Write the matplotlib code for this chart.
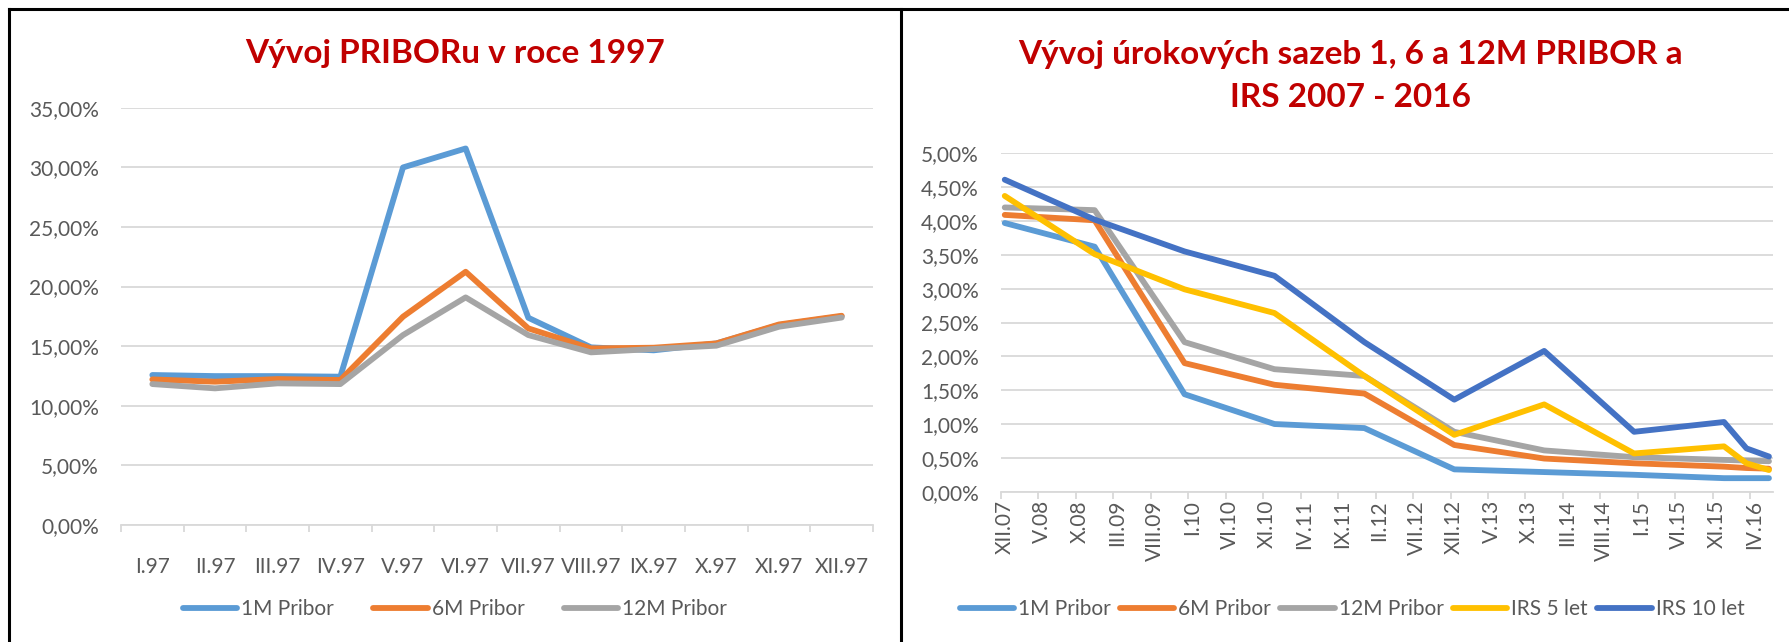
import matplotlib
matplotlib.use('Agg')
import matplotlib.pyplot as plt
from matplotlib.lines import Line2D
from matplotlib.ticker import FixedLocator, FuncFormatter

plt.rcParams['font.family'] = ['Lato', 'DejaVu Sans']

# left chart: PRIBOR 1997 (in %)
months_97 = ['I.97', 'II.97', 'III.97', 'IV.97', 'V.97', 'VI.97',
             'VII.97', 'VIII.97', 'IX.97', 'X.97', 'XI.97', 'XII.97']
pribor_1m_97 = [12.58, 12.49, 12.49, 12.44, 29.99, 31.58, 17.38, 14.90, 14.65, 15.23, 16.77, 17.50]
pribor_6m_97 = [12.21, 12.02, 12.24, 12.16, 17.47, 21.24, 16.49, 14.81, 14.87, 15.23, 16.82, 17.55]
pribor_12m_97 = [11.82, 11.46, 11.88, 11.82, 15.93, 19.09, 15.93, 14.48, 14.76, 15.04, 16.63, 17.40]

# right chart: monthly category axis XII.07 .. VI.16, values observed at these months
n_months = 103
month_labels = ['XII.07', 'V.08', 'X.08', 'III.09', 'VIII.09', 'I.10', 'VI.10', 'XI.10',
                'IV.11', 'IX.11', 'II.12', 'VII.12', 'XII.12', 'V.13', 'X.13', 'III.14',
                'VIII.14', 'I.15', 'VI.15', 'XI.15', 'IV.16']
obs_month = [0, 12, 24, 36, 48, 60, 72, 84, 96, 99, 102]
pribor_1m = [3.97, 3.62, 1.44, 1.00, 0.94, 0.33, 0.29, 0.25, 0.20, 0.20, 0.20]
pribor_6m = [4.09, 4.01, 1.90, 1.58, 1.45, 0.69, 0.49, 0.42, 0.37, 0.35, 0.34]
pribor_12m = [4.20, 4.16, 2.21, 1.81, 1.71, 0.885, 0.61, 0.51, 0.47, 0.46, 0.45]
irs_5 = [4.37, 3.51, 2.99, 2.64, 1.71, 0.84, 1.29, 0.565, 0.67, 0.42, 0.32]
irs_10 = [4.61, 4.02, 3.55, 3.19, 2.21, 1.36, 2.08, 0.885, 1.03, 0.64, 0.52]

c1m, c6m, c12m, c5, c10 = '#5B9BD5', '#ED7D31', '#A5A5A5', '#FFC000', '#4472C4'
txt = '#595959'
grid = '#D9D9D9'
W, H = 1789, 642
lw = 4.2
fs = 15

fig = plt.figure(figsize=(W/100, H/100), dpi=100)
fig.patch.set_facecolor('white')

pct = FuncFormatter(lambda v, p: ('%.2f%%' % v).replace('.', ','))


def style(ax):
    for s in ['top', 'right', 'left']:
        ax.spines[s].set_visible(False)
    ax.spines['bottom'].set_color(grid)
    ax.spines['bottom'].set_linewidth(1.3)
    ax.yaxis.set_major_formatter(pct)
    ax.grid(axis='y', color=grid, linewidth=1.3)
    ax.set_axisbelow(True)
    ax.tick_params(axis='y', length=0, pad=16, labelsize=fs, labelcolor=txt)
    ax.tick_params(axis='x', which='major', length=0, labelsize=fs, labelcolor=txt)
    ax.tick_params(axis='x', which='minor', length=5, color=grid, width=1.3)


# left
ax1 = fig.add_axes([121/W, 1-525/H, (873-121)/W, (525-107.7)/H])
x = range(len(months_97))
ax1.plot(x, pribor_1m_97, color=c1m, lw=lw, solid_capstyle='round', solid_joinstyle='round', label='1M Pribor')
ax1.plot(x, pribor_6m_97, color=c6m, lw=lw, solid_capstyle='round', solid_joinstyle='round', label='6M Pribor')
ax1.plot(x, pribor_12m_97, color=c12m, lw=lw, solid_capstyle='round', solid_joinstyle='round', label='12M Pribor')
ax1.set_xlim(-0.5, len(months_97)-0.5)
ax1.set_ylim(0, 35)
ax1.set_yticks(range(0, 36, 5))
ax1.set_xticks(list(x))
ax1.set_xticklabels(months_97)
ax1.xaxis.set_minor_locator(FixedLocator([i-0.5 for i in range(len(months_97)+1)]))
style(ax1)
ax1.tick_params(axis='x', which='major', pad=23)
ax1.legend(loc='center', bbox_to_anchor=(455/W, 1-609/H), bbox_transform=fig.transFigure,
           ncol=3, frameon=False, fontsize=fs, labelcolor=txt, handlelength=2.6,
           handletextpad=0.2, columnspacing=1.9)

# right
ax2 = fig.add_axes([1001/W, 1-491.7/H, (1772.7-1001)/W, (491.7-153.3)/H])
for vals, col, lab in [(pribor_1m, c1m, '1M Pribor'), (pribor_6m, c6m, '6M Pribor'),
                       (pribor_12m, c12m, '12M Pribor'), (irs_5, c5, 'IRS 5 let'),
                       (irs_10, c10, 'IRS 10 let')]:
    ax2.plot(obs_month, vals, color=col, lw=lw, solid_capstyle='round', solid_joinstyle='round', label=lab)
ax2.set_xlim(-0.5, n_months-0.5)
ax2.set_ylim(0, 5)
ax2.set_yticks([i*0.5 for i in range(11)])
ax2.set_xticks([i*5 for i in range(len(month_labels))])
ax2.set_xticklabels(month_labels, rotation=90)
ax2.xaxis.set_minor_locator(FixedLocator([i*5-0.5 for i in range(len(month_labels))]))
style(ax2)
ax2.tick_params(axis='x', which='major', pad=6)
ax2.legend(loc='center', bbox_to_anchor=(1352/W, 1-609/H), bbox_transform=fig.transFigure,
           ncol=5, frameon=False, fontsize=fs, labelcolor=txt, handlelength=2.6,
           handletextpad=0.2, columnspacing=0.45)

# titles
fig.text(455/W, 1-54/H, 'Vývoj PRIBORu v roce 1997', ha='center', va='center',
         fontsize=24, fontweight='bold', color='#C00000')
fig.text(1350/W, 1-76/H, 'Vývoj úrokových sazeb 1, 6 a 12M PRIBOR a\nIRS 2007 - 2016',
         ha='center', va='center', fontsize=24, fontweight='bold', color='#C00000', linespacing=1.55)

# frame
fig.add_artist(Line2D([9/W, 1], [1-9/H, 1-9/H], color='black', lw=2.2))
fig.add_artist(Line2D([9/W, 9/W], [0, 1-9/H], color='black', lw=2.2))
fig.add_artist(Line2D([901/W, 901/W], [0, 1-9/H], color='black', lw=2.2))

fig.savefig('out.png', dpi=100, facecolor='white')
